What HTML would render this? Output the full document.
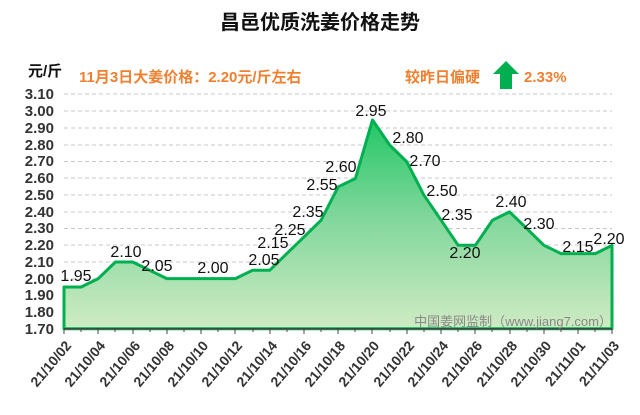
<!DOCTYPE html>
<html><head><meta charset="utf-8"><style>
body{margin:0;background:#fff;width:640px;height:410px;overflow:hidden}
text{font-family:"Liberation Sans","Noto Sans CJK SC",sans-serif}
</style></head><body>
<svg width="640" height="410" xmlns="http://www.w3.org/2000/svg">
<defs><linearGradient id="g" x1="0" y1="0" x2="0" y2="1">
<stop offset="0" stop-color="#22c866"/><stop offset="0.45" stop-color="#7ed69a"/><stop offset="1" stop-color="#d0ebc4"/></linearGradient></defs>
<text x="320" y="29" text-anchor="middle" font-size="20" font-weight="bold" fill="#111">昌邑优质洗姜价格走势</text>
<text x="28" y="76" font-size="15" font-weight="bold" fill="#111">元/斤</text>
<text x="79" y="82" font-size="15" font-weight="bold" fill="#f07f30">11月3日大姜价格：2.20元/斤左右</text>
<text x="405" y="82" font-size="15" font-weight="bold" fill="#f07f30">较昨日偏硬</text>
<polygon points="506,61 519,74 512,74 512,89 500,89 500,74 493,74" fill="#00b050"/>
<text x="524" y="82" font-size="15" font-weight="bold" fill="#f07f30">2.33%</text>
<g stroke="#c8c8c8" stroke-dasharray="4,3" stroke-width="1">
<line x1="64" x2="612" y1="94" y2="94"/><line x1="64" x2="612" y1="111" y2="111"/><line x1="64" x2="612" y1="128" y2="128"/><line x1="64" x2="612" y1="145" y2="145"/><line x1="64" x2="612" y1="161.5" y2="161.5"/><line x1="64" x2="612" y1="178" y2="178"/><line x1="64" x2="612" y1="195" y2="195"/><line x1="64" x2="612" y1="212" y2="212"/><line x1="64" x2="612" y1="228.5" y2="228.5"/><line x1="64" x2="612" y1="245" y2="245"/><line x1="64" x2="612" y1="262" y2="262"/><line x1="64" x2="612" y1="279" y2="279"/><line x1="64" x2="612" y1="295.5" y2="295.5"/><line x1="64" x2="612" y1="312" y2="312"/>
</g>
<g font-size="15" font-weight="bold" fill="#333" text-anchor="end">
<text x="54" y="99">3.10</text><text x="54" y="116">3.00</text><text x="54" y="133">2.90</text><text x="54" y="150">2.80</text><text x="54" y="166">2.70</text><text x="54" y="183">2.60</text><text x="54" y="200">2.50</text><text x="54" y="217">2.40</text><text x="54" y="233">2.30</text><text x="54" y="250">2.20</text><text x="54" y="267">2.10</text><text x="54" y="284">2.00</text><text x="54" y="300">1.90</text><text x="54" y="317">1.80</text><text x="54" y="334">1.70</text>
</g>
<path d="M64,287.0 L81.1,287.0 L98.3,278.6 L115.4,262.0 L132.6,262.0 L149.7,270.3 L166.8,278.6 L184,278.6 L201.1,278.6 L218.3,278.6 L235.4,278.6 L252.5,270.3 L269.7,270.3 L286.8,253.6 L304,236.9 L321.1,220.2 L338.2,186.8 L355.4,178.5 L372.5,120.0 L389.7,145.1 L406.8,161.8 L423.9,195.2 L441.1,220.2 L458.2,245.3 L475.4,245.3 L492.5,220.2 L509.6,211.9 L526.8,228.6 L543.9,245.3 L561.1,253.6 L578.2,253.6 L595.4,253.6 L612,245.3 L612,328.7 L64,328.7 Z" fill="url(#g)" stroke="#00b050" stroke-width="3" stroke-linejoin="round"/>
<line x1="64" x2="612" y1="328.7" y2="328.7" stroke="#444" stroke-width="1.5"/>
<g stroke="#444" stroke-width="1">
<path d="M64,329v5M81,329v3M98,329v5M115,329v3M133,329v5M150,329v3M167,329v5M184,329v3M201,329v5M218,329v3M235,329v5M253,329v3M270,329v5M287,329v3M304,329v5M321,329v3M338,329v5M355,329v3M372,329v5M390,329v3M407,329v5M424,329v3M441,329v5M458,329v3M475,329v5M492,329v3M510,329v5M527,329v3M544,329v5M561,329v3M578,329v5M595,329v3M612,329v5"/>
</g>
<text x="612" y="326" text-anchor="end" font-size="13" fill="#888">中国姜网监制（www.jiang7.com）</text>
<g font-size="16" fill="#111" text-anchor="middle">
<text x="76" y="281">1.95</text><text x="126" y="257">2.10</text><text x="157" y="271">2.05</text><text x="213" y="273">2.00</text><text x="264" y="265">2.05</text><text x="273" y="248">2.15</text><text x="290" y="235">2.25</text><text x="308" y="217">2.35</text><text x="322" y="190">2.55</text><text x="341" y="172">2.60</text><text x="371" y="116">2.95</text><text x="408" y="143">2.80</text><text x="425" y="166">2.70</text><text x="442" y="196">2.50</text><text x="457" y="220">2.35</text><text x="465" y="258">2.20</text><text x="511" y="207">2.40</text><text x="539" y="229">2.30</text><text x="578" y="252">2.15</text><text x="609" y="244">2.20</text>
</g>
<g font-size="14" font-weight="bold" fill="#333" text-anchor="end">
<text transform="translate(72,346) rotate(-50)">21/10/02</text><text transform="translate(106,346) rotate(-50)">21/10/04</text><text transform="translate(141,346) rotate(-50)">21/10/06</text><text transform="translate(175,346) rotate(-50)">21/10/08</text><text transform="translate(209,346) rotate(-50)">21/10/10</text><text transform="translate(243,346) rotate(-50)">21/10/12</text><text transform="translate(278,346) rotate(-50)">21/10/14</text><text transform="translate(312,346) rotate(-50)">21/10/16</text><text transform="translate(346,346) rotate(-50)">21/10/18</text><text transform="translate(380,346) rotate(-50)">21/10/20</text><text transform="translate(415,346) rotate(-50)">21/10/22</text><text transform="translate(449,346) rotate(-50)">21/10/24</text><text transform="translate(483,346) rotate(-50)">21/10/26</text><text transform="translate(518,346) rotate(-50)">21/10/28</text><text transform="translate(552,346) rotate(-50)">21/10/30</text><text transform="translate(586,346) rotate(-50)">21/11/01</text><text transform="translate(620,346) rotate(-50)">21/11/03</text>
</g>
</svg>
</body></html>
